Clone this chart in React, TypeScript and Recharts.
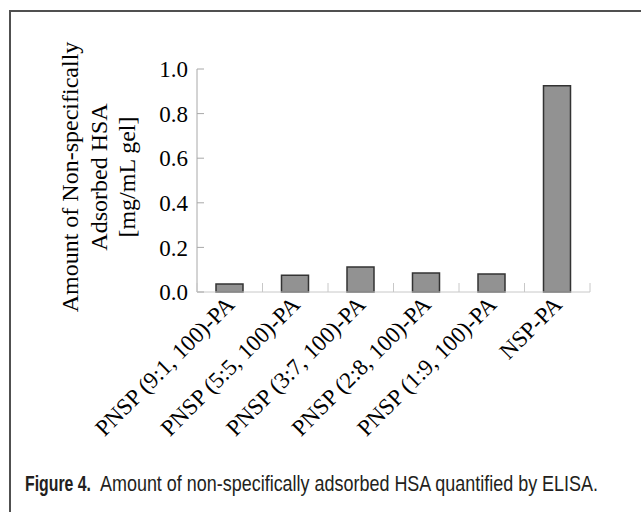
import React from 'react';
import { BarChart, Bar, XAxis, YAxis } from 'recharts';

const categories = [
  'PNSP (9:1, 100)-PA',
  'PNSP (5:5, 100)-PA',
  'PNSP (3:7, 100)-PA',
  'PNSP (2:8, 100)-PA',
  'PNSP (1:9, 100)-PA',
  'NSP-PA',
];
const adsorbedHSA = [0.036, 0.075, 0.112, 0.085, 0.081, 0.925];
const yTicks = [0, 0.2, 0.4, 0.6, 0.8, 1.0];
const yTitleLines = ['Amount of Non-specifically', 'Adsorbed HSA', '[mg/mL gel]'];
const captionBold = 'Figure 4.';
const captionText = 'Amount of non-specifically adsorbed HSA quantified by ELISA.';

const data = categories.map((name, i) => ({ name, value: adsorbedHSA[i] }));

const SERIF = '"Liberation Serif", "Times New Roman", serif';
const CAPTION_FONT = '"Liberation Sans Narrow", "Liberation Sans", Arial, sans-serif';

const XTick = (props: any) => {
  const { x, y, payload, index } = props;
  const half = payload && payload.offset ? payload.offset : 0;
  return (
    <g>
      <line x1={x - half} x2={x - half} y1={y} y2={y - 9} stroke="#c8c8c8" strokeWidth={1} />
      {index === categories.length - 1 && (
        <line x1={x + half} x2={x + half} y1={y} y2={y - 9} stroke="#c8c8c8" strokeWidth={1} />
      )}
      <text
        transform={`translate(${x + 6},${y + 14}) rotate(-45)`}
        textAnchor="end"
        fontFamily={SERIF}
        fontSize={23}
        fill="#000"
      >
        {payload.value}
      </text>
    </g>
  );
};

export default function App() {
  return (
    <div style={{ position: 'absolute', left: 0, top: 0, width: 641, height: 512, background: '#fff' }}>
      <div style={{ position: 'absolute', left: 0, top: 0 }}>
        <BarChart
          width={641}
          height={512}
          data={data}
          margin={{ top: 69, right: 51, bottom: 70, left: 77 }}
        >
          <XAxis
            dataKey="name"
            interval={0}
            height={150}
            tickLine={false}
            tickSize={0}
            tickMargin={0}
            axisLine={{ stroke: '#c8c8c8', strokeWidth: 1 }}
            tick={<XTick />}
          />
          <YAxis
            domain={[0, 1]}
            ticks={yTicks}
            interval={0}
            width={120}
            tickFormatter={(v: number) => v.toFixed(1)}
            tickSize={-7}
            tickMargin={16}
            axisLine={{ stroke: '#a8a8a8', strokeWidth: 1 }}
            tickLine={{ stroke: '#a8a8a8', strokeWidth: 1 }}
            tick={{ fontFamily: SERIF, fontSize: 23, fill: '#000' }}
          />
          <Bar
            dataKey="value"
            fill="#929292"
            stroke="#333"
            strokeWidth={1.5}
            barSize={27}
            isAnimationActive={false}
          />
        </BarChart>
      </div>
      <svg
        width={641}
        height={512}
        style={{ position: 'absolute', left: 0, top: 0, pointerEvents: 'none' }}
      >
        <line x1={10} y1={11} x2={641} y2={11} stroke="#505050" strokeWidth={2} />
        <line x1={10} y1={10} x2={10} y2={512} stroke="#505050" strokeWidth={2} />
        {yTitleLines.map((line, i) => {
          const bx = [78, 107, 135][i];
          return (
            <text
              key={line}
              x={bx}
              y={177}
              transform={`rotate(-90, ${bx}, 177)`}
              textAnchor="middle"
              fontFamily={SERIF}
              fontSize={24}
              fill="#000"
            >
              {line}
            </text>
          );
        })}
        <g transform="translate(0,491) scale(1,1.12)">
          <text
            x={25}
            y={0}
            fontFamily={CAPTION_FONT}
            fontWeight="bold"
            fontSize={19}
            fill="#231f20"
            textLength={66}
            lengthAdjust="spacingAndGlyphs"
          >
            {captionBold}
          </text>
          <text
            x={100}
            y={0}
            fontFamily={CAPTION_FONT}
            fontSize={19}
            fill="#231f20"
            textLength={498}
            lengthAdjust="spacingAndGlyphs"
          >
            {captionText}
          </text>
        </g>
      </svg>
    </div>
  );
}
